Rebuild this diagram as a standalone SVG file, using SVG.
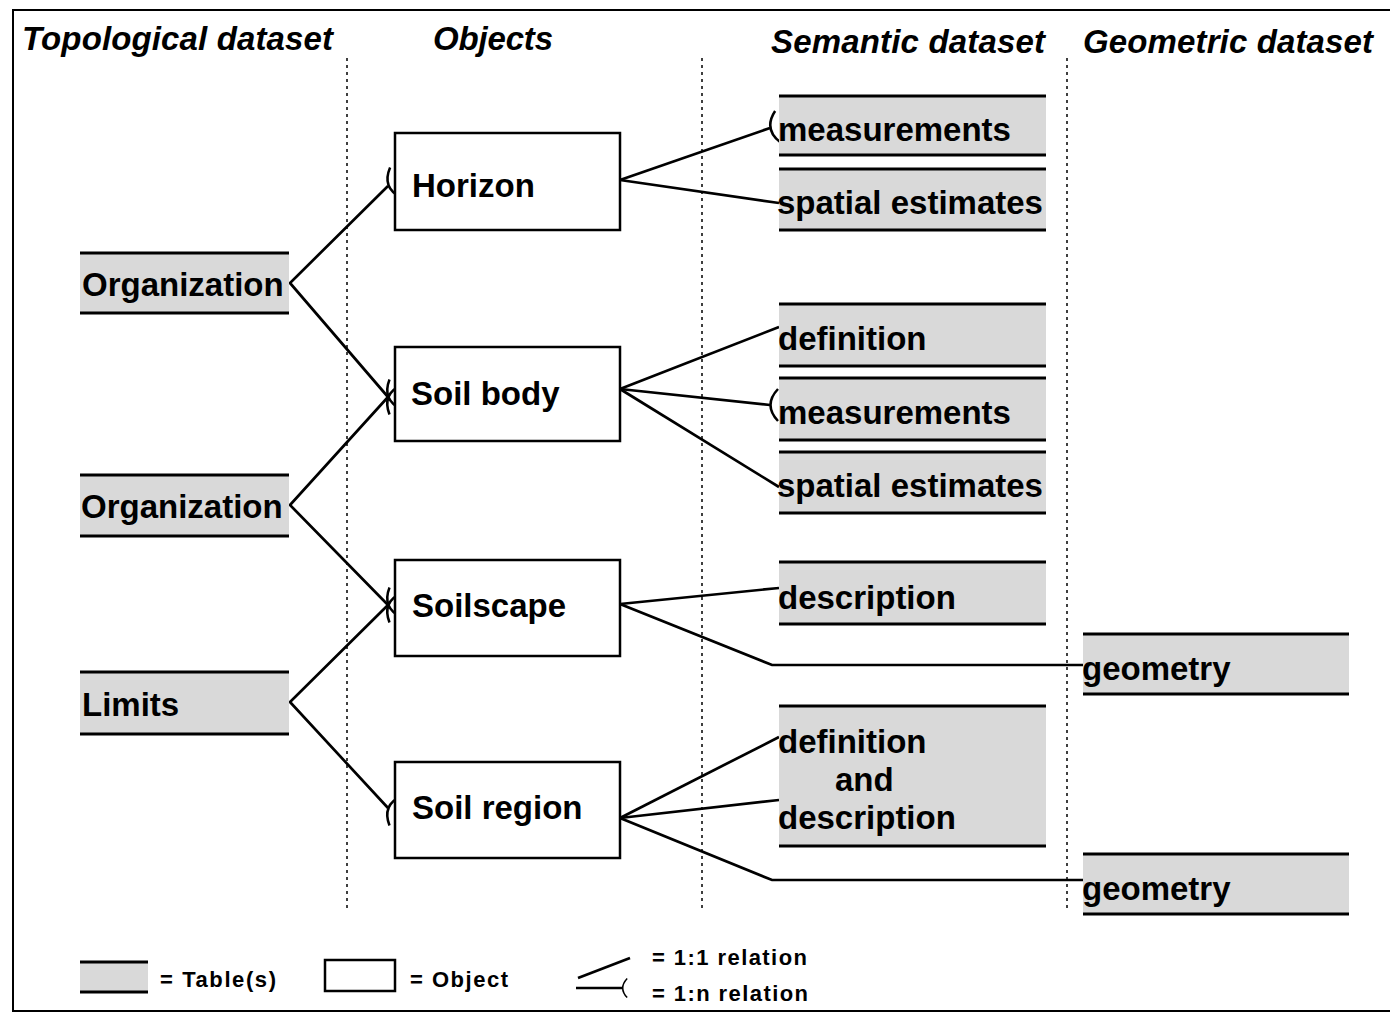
<svg xmlns="http://www.w3.org/2000/svg" xmlns:xlink="http://www.w3.org/1999/xlink" width="1390" height="1013" viewBox="0 0 1390 1013">
<style>
.frame{fill:none;stroke:#000;stroke-width:2}
.hdr{font-family:"Liberation Sans",Arial,sans-serif;font-weight:bold;font-style:italic;font-size:33px;fill:#000}
.lbl{font-family:"Liberation Sans",Arial,sans-serif;font-weight:bold;font-size:33px;fill:#000}
.leg{font-family:"Liberation Sans",Arial,sans-serif;font-weight:bold;font-size:22px;fill:#000}
.tbl{fill:#d9d9d9}
.tl{stroke:#000;stroke-width:3}
.obj{fill:#fff;stroke:#000;stroke-width:2.5}
.dot{stroke:#000;stroke-width:1.5;stroke-dasharray:3 4;fill:none}
.con{stroke:#000;stroke-width:2.7;fill:none}
.crow{stroke:#000;stroke-width:2.5;fill:none}
</style>
<defs>
<path id="crow" class="crow" d="M 7 -16 Q -8 0 7 16"/>
</defs>
<rect x="0" y="0" width="1390" height="1013" fill="#fff"/>
<path class="frame" d="M 1390 10 H 13 V 1011 H 1390"/>

<g id="headers">
<text class="hdr" x="22" y="50" textLength="311">Topological dataset</text>
<text class="hdr" x="433" y="50" textLength="120">Objects</text>
<text class="hdr" x="771" y="53" textLength="274">Semantic dataset</text>
<text class="hdr" x="1083" y="53" textLength="290">Geometric dataset</text>
</g>

<g id="separators">
<line class="dot" x1="347" y1="58" x2="347" y2="910"/>
<line class="dot" x1="702" y1="58" x2="702" y2="910"/>
<line class="dot" x1="1067" y1="58" x2="1067" y2="910"/>
</g>

<g id="connectors">
<polyline class="con" points="388,186 290,283 388,397"/>
<polyline class="con" points="388,397 290,505 388,605"/>
<polyline class="con" points="388,605 290,702 388,808"/>
<use xlink:href="#crow" href="#crow" transform="translate(389,185) rotate(-20)"/>
<use xlink:href="#crow" href="#crow" transform="translate(389,397) rotate(22)"/>
<use xlink:href="#crow" href="#crow" transform="translate(389,397) rotate(-22)"/>
<use xlink:href="#crow" href="#crow" transform="translate(389,605) rotate(22)"/>
<use xlink:href="#crow" href="#crow" transform="translate(389,605) rotate(-22)"/>
<use xlink:href="#crow" href="#crow" transform="translate(389,808) rotate(22)"/>

<line class="con" x1="620" y1="180" x2="770" y2="128"/>
<use xlink:href="#crow" href="#crow" transform="translate(771,128) rotate(-10)"/>
<line class="con" x1="620" y1="180" x2="779" y2="203"/>

<line class="con" x1="620" y1="389" x2="779" y2="327"/>
<line class="con" x1="620" y1="389" x2="770" y2="405"/>
<use xlink:href="#crow" href="#crow" transform="translate(771,405)"/>
<line class="con" x1="620" y1="389" x2="779" y2="487"/>

<line class="con" x1="620" y1="604" x2="779" y2="588"/>
<polyline class="con" points="620,604 772,665 1083,665"/>

<line class="con" x1="620" y1="818" x2="779" y2="737"/>
<line class="con" x1="620" y1="818" x2="779" y2="800"/>
<polyline class="con" points="620,818 772,880 1083,880"/>
</g>

<g id="org1">
<rect class="tbl" x="80" y="253" width="209" height="60"/>
<line class="tl" x1="80" y1="253" x2="289" y2="253"/><line class="tl" x1="80" y1="313" x2="289" y2="313"/>
<text class="lbl" x="82" y="296">Organization</text>
</g>
<g id="org2">
<rect class="tbl" x="80" y="475" width="209" height="61"/>
<line class="tl" x1="80" y1="475" x2="289" y2="475"/><line class="tl" x1="80" y1="536" x2="289" y2="536"/>
<text class="lbl" x="81" y="518">Organization</text>
</g>
<g id="limits">
<rect class="tbl" x="80" y="672" width="209" height="62"/>
<line class="tl" x1="80" y1="672" x2="289" y2="672"/><line class="tl" x1="80" y1="734" x2="289" y2="734"/>
<text class="lbl" x="82" y="716">Limits</text>
</g>

<g id="horizon">
<rect class="obj" x="395" y="133" width="225" height="97"/>
<text class="lbl" x="412" y="197">Horizon</text>
</g>
<g id="soilbody">
<rect class="obj" x="395" y="347" width="225" height="94"/>
<text class="lbl" x="411" y="405">Soil body</text>
</g>
<g id="soilscape">
<rect class="obj" x="395" y="560" width="225" height="96"/>
<text class="lbl" x="412" y="617">Soilscape</text>
</g>
<g id="soilregion">
<rect class="obj" x="395" y="762" width="225" height="96"/>
<text class="lbl" x="412" y="819">Soil region</text>
</g>

<g id="measurements1">
<rect class="tbl" x="779" y="96" width="267" height="59"/>
<line class="tl" x1="779" y1="96" x2="1046" y2="96"/><line class="tl" x1="779" y1="155" x2="1046" y2="155"/>
<text class="lbl" x="778" y="141">measurements</text>
</g>
<g id="spatial1">
<rect class="tbl" x="779" y="169" width="267" height="61"/>
<line class="tl" x1="779" y1="169" x2="1046" y2="169"/><line class="tl" x1="779" y1="230" x2="1046" y2="230"/>
<text class="lbl" x="777" y="214">spatial estimates</text>
</g>
<g id="definition">
<rect class="tbl" x="779" y="304" width="267" height="62"/>
<line class="tl" x1="779" y1="304" x2="1046" y2="304"/><line class="tl" x1="779" y1="366" x2="1046" y2="366"/>
<text class="lbl" x="778" y="350">definition</text>
</g>
<g id="measurements2">
<rect class="tbl" x="779" y="378" width="267" height="62"/>
<line class="tl" x1="779" y1="378" x2="1046" y2="378"/><line class="tl" x1="779" y1="440" x2="1046" y2="440"/>
<text class="lbl" x="778" y="424">measurements</text>
</g>
<g id="spatial2">
<rect class="tbl" x="779" y="452" width="267" height="61"/>
<line class="tl" x1="779" y1="452" x2="1046" y2="452"/><line class="tl" x1="779" y1="513" x2="1046" y2="513"/>
<text class="lbl" x="777" y="497">spatial estimates</text>
</g>
<g id="description">
<rect class="tbl" x="779" y="562" width="267" height="62"/>
<line class="tl" x1="779" y1="562" x2="1046" y2="562"/><line class="tl" x1="779" y1="624" x2="1046" y2="624"/>
<text class="lbl" x="778" y="609">description</text>
</g>
<g id="defdesc">
<rect class="tbl" x="779" y="706" width="267" height="140"/>
<line class="tl" x1="779" y1="706" x2="1046" y2="706"/><line class="tl" x1="779" y1="846" x2="1046" y2="846"/>
<text class="lbl" x="778" y="753">definition</text>
<text class="lbl" x="835" y="791">and</text>
<text class="lbl" x="778" y="829">description</text>
</g>
<g id="geometry1">
<rect class="tbl" x="1083" y="634" width="266" height="60"/>
<line class="tl" x1="1083" y1="634" x2="1349" y2="634"/><line class="tl" x1="1083" y1="694" x2="1349" y2="694"/>
<text class="lbl" x="1082" y="680">geometry</text>
</g>
<g id="geometry2">
<rect class="tbl" x="1083" y="854" width="266" height="60"/>
<line class="tl" x1="1083" y1="854" x2="1349" y2="854"/><line class="tl" x1="1083" y1="914" x2="1349" y2="914"/>
<text class="lbl" x="1082" y="900">geometry</text>
</g>

<g id="legend">
<rect class="tbl" x="80" y="962" width="68" height="30"/>
<line class="tl" x1="80" y1="962" x2="148" y2="962"/><line class="tl" x1="80" y1="992" x2="148" y2="992"/>
<text class="leg" x="160" y="987" textLength="116">= Table(s)</text>
<rect class="obj" x="325" y="960" width="70" height="31"/>
<text class="leg" x="410" y="987" textLength="98">= Object</text>
<line class="con" x1="578" y1="978" x2="630" y2="958"/>
<line class="con" x1="576" y1="988" x2="622" y2="988"/>
<use xlink:href="#crow" href="#crow" transform="translate(623,988) scale(0.6)"/>
<text class="leg" x="652" y="965" textLength="155">= 1:1 relation</text>
<text class="leg" x="652" y="1001" textLength="156">= 1:n relation</text>
</g>
</svg>
